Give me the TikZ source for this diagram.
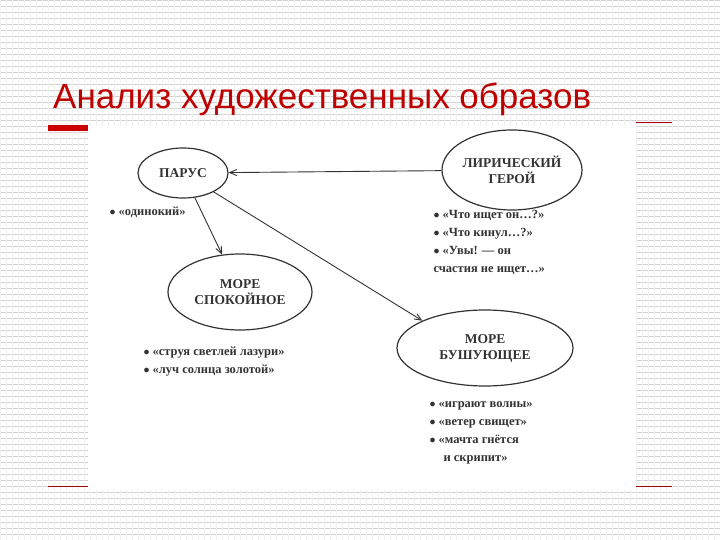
\documentclass[tikz,border=0pt]{standalone}
\usepackage{fontspec}
\usetikzlibrary{shapes.geometric,arrows.meta}
\setmainfont{Liberation Serif}
\newfontfamily\titlefont{Liberation Sans}
\begin{document}
\begin{tikzpicture}[x=1pt,y=-1pt,
  oval/.style={draw=black!80,ellipse,line width=1.2pt,inner sep=0pt,align=center,font=\bfseries\fontsize{13.5}{16}\selectfont,text=black!80},
  lst/.style={anchor=north west,align=left,font=\bfseries\fontsize{12.5}{18}\selectfont,text=black!80},
  arr/.style={-{Straight Barb[length=7pt,width=6pt]},line width=0.9pt,draw=black!80}]
\useasboundingbox (0,0) rectangle (720,540);
\fill[white] (0,0) rectangle (720,540);
\foreach \yy in {0,6,...,540} \draw[black!18,line width=0.6pt] (0,\yy) -- (720,\yy);
\foreach \xx in {0,6,...,720} \draw[black!6,line width=0.4pt] (\xx,0) -- (\xx,540);
\node[anchor=west,text=red!75!black,font=\titlefont\fontsize{35}{38}\selectfont,inner sep=0pt] (title) at (53,99) {Анализ художественных образов};
\fill[red!80!black] (48,125) rectangle (88,131);
\draw[red!70!black,line width=0.8pt] (636,122) -- (672,122);
\draw[red!60!black,line width=0.8pt] (48,486) -- (88,486);
\draw[red!60!black,line width=0.8pt] (636,486) -- (672,486);
\fill[white] (88,126) rectangle (636,490);
\node[oval,minimum width=90,minimum height=50] (parus) at (183,173) {ПАРУС};
\node[oval,minimum width=140,minimum height=80] (hero) at (512,170) {ЛИРИЧЕСКИЙ\\ГЕРОЙ};
\node[oval,minimum width=144,minimum height=76] (calm) at (240,292) {МОРЕ\\СПОКОЙНОЕ};
\node[oval,minimum width=176,minimum height=76] (storm) at (485,348) {МОРЕ\\БУШУЮЩЕЕ};
\draw[arr] (hero) -- (parus);
\draw[arr] (parus) -- (calm);
\draw[arr] (parus) -- (storm.north west);
\node[lst] (l1) at (106,203) {$\bullet$ «одинокий»};
\node[lst] (l2) at (430,207) {$\bullet$ «Что ищет он…?»\\$\bullet$ «Что кинул…?»\\$\bullet$ «Увы! — он\\счастия не ищет…»};
\node[lst] (l3) at (140,343) {$\bullet$ «струя светлей лазури»\\$\bullet$ «луч солнца золотой»};
\node[lst] (l4) at (426,398) {$\bullet$ «играют волны»\\$\bullet$ «ветер свищет»\\$\bullet$ «мачта гнётся\\\hspace{14pt}и скрипит»};
\end{tikzpicture}
\end{document}
